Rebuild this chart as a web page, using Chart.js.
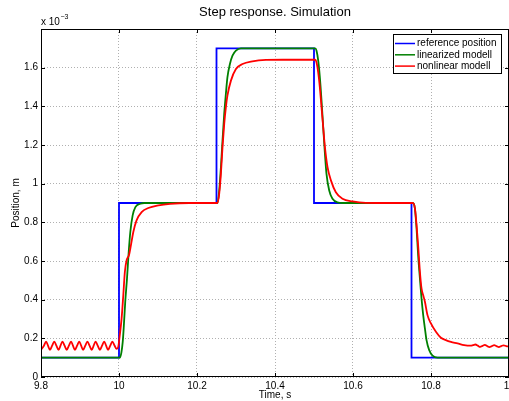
<!DOCTYPE html>
<html><head><meta charset="utf-8">
<script src="https://cdn.jsdelivr.net/npm/chart.js@4/dist/chart.umd.min.js"></script>
<style>html,body{margin:0;padding:0;background:#fff;overflow:hidden}canvas{display:block}</style>
</head><body>
<canvas id="c" width="509" height="401"></canvas>
<script>
// values in units of 1e-3 m
const refTime = [9.8, 10, 10, 10.25, 10.25, 10.5, 10.5, 10.75, 10.75, 11];
const refPos  = [0.1, 0.1, 0.9, 0.9, 1.7, 1.7, 0.9, 0.9, 0.1, 0.1];

const linTime = [9.8, 10.002, 10.006, 10.0095, 10.012, 10.016, 10.0205, 10.0249, 10.029, 10.035, 10.042, 10.0546, 10.065,
  10.2526, 10.257, 10.2613, 10.2654, 10.2698, 10.274, 10.278, 10.2844, 10.291, 10.2998, 10.3126,
  10.503, 10.5065, 10.5108, 10.515, 10.5193, 10.5236, 10.528, 10.532, 10.539, 10.5475, 10.56, 10.575,
  10.7536, 10.7588, 10.763, 10.767, 10.7716, 10.7757, 10.78, 10.7844, 10.7885, 10.7954, 10.804, 10.8167, 11];
const linPos = [0.1, 0.1, 0.125, 0.18, 0.251, 0.389, 0.509, 0.647, 0.75, 0.836, 0.879, 0.896, 0.9,
  0.9, 0.965, 1.085, 1.223, 1.361, 1.464, 1.55, 1.619, 1.662, 1.688, 1.70,
  1.70, 1.688, 1.636, 1.55, 1.43, 1.292, 1.155, 1.051, 0.965, 0.922, 0.903, 0.9,
  0.9, 0.871, 0.767, 0.63, 0.509, 0.406, 0.32, 0.251, 0.191, 0.139, 0.11, 0.1, 0.1];

const nonTime = [9.8, 9.8075, 9.813, 9.818, 9.823, 9.8285, 9.834, 9.8395, 9.845, 9.85, 9.855, 9.8605, 9.866, 9.8715, 9.877, 9.882,
  9.887, 9.8925, 9.898, 9.903, 9.908, 9.9135, 9.919, 9.9245, 9.93, 9.935, 9.94, 9.9455, 9.951, 9.9565, 9.962, 9.967,
  9.972, 9.9775, 9.983, 9.9885, 9.994,
  9.9982, 10.002, 10.0067, 10.011, 10.015, 10.0195, 10.0255, 10.0305, 10.0367, 10.045, 10.058, 10.075, 10.101, 10.131, 10.18,
  10.2526, 10.257, 10.2613, 10.2654, 10.2698, 10.274, 10.278, 10.287, 10.2998, 10.3167, 10.342, 10.377, 10.42,
  10.503, 10.5065, 10.5108, 10.515, 10.5193, 10.5236, 10.528, 10.5347, 10.5434, 10.556, 10.573, 10.599, 10.633, 10.7,
  10.7536, 10.7588, 10.763, 10.767, 10.7716, 10.7757, 10.78, 10.7844, 10.791, 10.7998, 10.8126, 10.8254, 10.838, 10.851, 10.868, 10.885,
  10.902, 10.908, 10.914, 10.92, 10.926, 10.932, 10.938, 10.944, 10.95, 10.956, 10.962, 10.968, 10.974, 10.98, 10.986, 10.993, 11];
const nonPos = [0.142, 0.162, 0.183, 0.162, 0.14, 0.162, 0.183, 0.162, 0.14, 0.162, 0.183, 0.162, 0.14, 0.162, 0.183, 0.162,
  0.14, 0.162, 0.183, 0.162, 0.14, 0.162, 0.183, 0.162, 0.14, 0.162, 0.183, 0.162, 0.14, 0.162, 0.183, 0.162,
  0.14, 0.162, 0.183, 0.163, 0.145,
  0.157, 0.217, 0.303, 0.423, 0.543, 0.604, 0.63, 0.681, 0.75, 0.81, 0.853, 0.874, 0.888, 0.896, 0.9,
  0.9, 0.948, 1.051, 1.189, 1.309, 1.395, 1.455, 1.533, 1.593, 1.619, 1.633, 1.64, 1.641,
  1.641, 1.627, 1.576, 1.498, 1.395, 1.292, 1.189, 1.085, 1.017, 0.956, 0.922, 0.908, 0.901, 0.9,
  0.9, 0.871, 0.785, 0.681, 0.543, 0.458, 0.423, 0.389, 0.32, 0.277, 0.234, 0.203, 0.191, 0.182, 0.174, 0.165,
  0.162, 0.165, 0.168, 0.162, 0.156, 0.161, 0.166, 0.16, 0.155, 0.16, 0.165, 0.16, 0.155, 0.16, 0.164, 0.16, 0.157];

const xTicks = [9.8, 10, 10.2, 10.4, 10.6, 10.8, 11];
const yTicks = [0, 0.2, 0.4, 0.6, 0.8, 1, 1.2, 1.4, 1.6];
const seriesLabels = ['reference position', 'linearized modell', 'nonlinear modell'];
const seriesColors = ['#0000ff', '#008000', '#ff0000'];

const pts = (t, v) => t.map((x, i) => ({x: x, y: v[i]}));
const FONT = "'Liberation Sans', Arial, Helvetica, sans-serif";
Chart.defaults.font.family = FONT;
Chart.defaults.color = '#000';

const decor = {
  id: 'decor',
  afterDraw(chart) {
    const {ctx, chartArea: a, scales: {x, y}} = chart;
    ctx.save();
    ctx.strokeStyle = '#000';
    ctx.lineWidth = 1;
    ctx.beginPath();
    x.ticks.forEach(t => {
      const p = Math.round(x.getPixelForValue(t.value)) + 0.5;
      ctx.moveTo(p, a.bottom); ctx.lineTo(p, a.bottom - 4);
      ctx.moveTo(p, a.top); ctx.lineTo(p, a.top + 4);
    });
    y.ticks.forEach(t => {
      const p = Math.round(y.getPixelForValue(t.value)) + 0.5;
      ctx.moveTo(a.left, p); ctx.lineTo(a.left + 4, p);
      ctx.moveTo(a.right, p); ctx.lineTo(a.right - 4, p);
    });
    ctx.stroke();
    ctx.strokeRect(Math.round(a.left) + 0.5, Math.round(a.top) + 0.5, a.right - a.left - 1, a.bottom - a.top - 1);

    // exponent label
    ctx.fillStyle = '#000';
    ctx.font = '10px ' + FONT;
    ctx.textBaseline = 'middle';
    ctx.textAlign = 'left';
    ctx.fillText('x 10', 41, 22);
    const w = ctx.measureText('x 10').width;
    ctx.font = '7px ' + FONT;
    ctx.fillText('\u22123', 41 + w + 0.5, 17);

    // legend
    const lx = 393.5, ly = 34.5, lw = 108, lh = 39;
    ctx.fillStyle = '#fff';
    ctx.fillRect(lx, ly, lw, lh);
    ctx.strokeStyle = '#000';
    ctx.strokeRect(lx, ly, lw, lh);
    ctx.font = '10px ' + FONT;
    chart.data.datasets.forEach((ds, i) => {
      const yy = 43.5 + i * 11.3;
      ctx.strokeStyle = ds.borderColor;
      ctx.lineWidth = 1.5;
      ctx.beginPath();
      ctx.moveTo(395, yy); ctx.lineTo(415, yy);
      ctx.stroke();
      ctx.fillStyle = '#000';
      ctx.fillText(ds.label, 417, yy);
    });
    ctx.restore();
  }
};

new Chart(document.getElementById('c'), {
  type: 'line',
  data: {
    datasets: [
      {label: seriesLabels[0], data: pts(refTime, refPos), borderColor: seriesColors[0], borderWidth: 1.8, tension: 0, order: 3},
      {label: seriesLabels[1], data: pts(linTime, linPos), borderColor: seriesColors[1], borderWidth: 1.8, cubicInterpolationMode: 'monotone', order: 2},
      {label: seriesLabels[2], data: pts(nonTime, nonPos), borderColor: seriesColors[2], borderWidth: 1.8, cubicInterpolationMode: 'monotone', order: 1}
    ]
  },
  options: {
    responsive: false,
    animation: false,
    devicePixelRatio: 1,
    elements: {point: {radius: 0}},
    layout: {padding: {top: 0, left: 0, right: 0, bottom: 0}},
    plugins: {
      legend: {display: false},
      tooltip: {enabled: false},
      title: {display: true, fullSize: false, text: 'Step response. Simulation', color: '#000',
        font: {size: 13, weight: 'normal', family: FONT, lineHeight: 1.2}, padding: {top: 5, bottom: 8.4}}
    },
    scales: {
      x: {
        type: 'linear', min: 9.8, max: 11,
        afterBuildTicks: s => { s.ticks = xTicks.map(v => ({value: v})); },
        afterFit: s => { s.height = 24; s.paddingLeft = 0; s.paddingRight = 0; },
        ticks: {font: {size: 10}, padding: 3, maxRotation: 0, autoSkip: false,
          callback: v => String(Number(v.toFixed(1)))},
        grid: {color: '#b0b0b0', lineWidth: 1, drawTicks: false},
        border: {display: false, dash: [1, 2]},
        title: {display: true, text: 'Time, s', font: {size: 10, lineHeight: 1.2}, padding: {top: 0, bottom: 0}}
      },
      y: {
        type: 'linear', min: 0, max: 1.8,
        afterBuildTicks: s => { s.ticks = yTicks.map(v => ({value: v})); },
        afterFit: s => { s.width = 41; s.paddingTop = 0; s.paddingBottom = 0; },
        ticks: {font: {size: 10}, padding: 3, autoSkip: false,
          callback: v => String(Number(v.toFixed(1)))},
        grid: {color: '#b0b0b0', lineWidth: 1, drawTicks: false},
        border: {display: false, dash: [1, 2]},
        title: {display: true, text: 'Position, m', font: {size: 10, lineHeight: 1.2}, padding: {top: 10, bottom: 0}}
      }
    }
  },
  plugins: [decor]
});
</script>
</body></html>
